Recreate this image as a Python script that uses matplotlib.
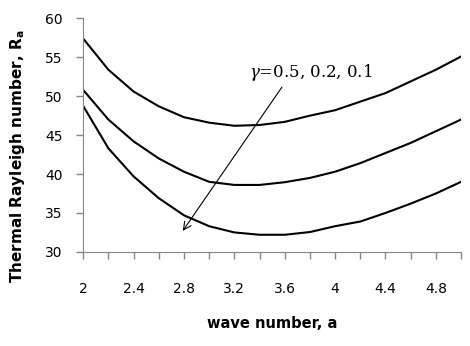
import numpy as np
import matplotlib
matplotlib.use('Agg')
import matplotlib.pyplot as plt
from matplotlib.ticker import MultipleLocator

# wave number
a = [2.0, 2.2, 2.4, 2.6, 2.8, 3.0, 3.2, 3.4, 3.6, 3.8, 4.0, 4.2, 4.4, 4.6, 4.8, 5.0]

# Thermal Rayleigh number for gamma = 0.5, 0.2, 0.1
ra_05 = [57.4, 53.4, 50.6, 48.7, 47.3, 46.6, 46.2, 46.3, 46.7, 47.5, 48.2, 49.3, 50.4, 51.9, 53.4, 55.1]
ra_02 = [50.8, 47.0, 44.2, 42.0, 40.3, 39.0, 38.6, 38.6, 38.95, 39.5, 40.3, 41.4, 42.7, 44.0, 45.5, 47.0]
ra_01 = [48.75, 43.3, 39.7, 36.9, 34.7, 33.3, 32.5, 32.2, 32.2, 32.55, 33.3, 33.9, 35.0, 36.2, 37.5, 39.0]

xticks = [2, 2.4, 2.8, 3.2, 3.6, 4, 4.4, 4.8]
xticklabels = ['2', '2.4', '2.8', '3.2', '3.6', '4', '4.4', '4.8']

fig = plt.figure(figsize=(4.7, 3.46), dpi=100)
ax = fig.add_axes([0.177, 0.272, 0.804, 0.675])

for y in (ra_05, ra_02, ra_01):
    ax.plot(a, y, color='black', lw=1.5)

ax.set_xlim(2, 5)
ax.set_ylim(30, 60)
ax.set_xticks(xticks)
ax.set_xticklabels(xticklabels)
ax.xaxis.set_minor_locator(MultipleLocator(0.2))
ax.yaxis.set_major_locator(MultipleLocator(5))

grey = '#868686'
for s in ('top', 'right'):
    ax.spines[s].set_visible(False)
for s in ('left', 'bottom'):
    ax.spines[s].set_color(grey)
ax.tick_params(axis='both', which='both', direction='out', color=grey, length=5, width=1)
ax.tick_params(axis='x', which='major', pad=17, labelsize=10)
ax.tick_params(axis='y', which='major', pad=10, labelsize=10)

ax.set_xlabel('wave number, a', fontsize=10.5, fontweight='bold', labelpad=14)
ax.set_ylabel('Thermal Rayleigh number, R$_\\mathbf{a}$', fontsize=11, fontweight='bold')
ax.yaxis.set_label_coords(-0.148, 0.41)

plt.rcParams['mathtext.fontset'] = 'dejavuserif'
ax.text(3.32, 53.0, '$\\gamma$=0.5, 0.2, 0.1', fontsize=12, family='DejaVu Serif', va='center')
ax.annotate('', xy=(2.778, 32.4), xytext=(3.59, 51.45),
            arrowprops=dict(arrowstyle='->', color='black', lw=0.8, mutation_scale=14))

fig.savefig('out.png', dpi=100)
